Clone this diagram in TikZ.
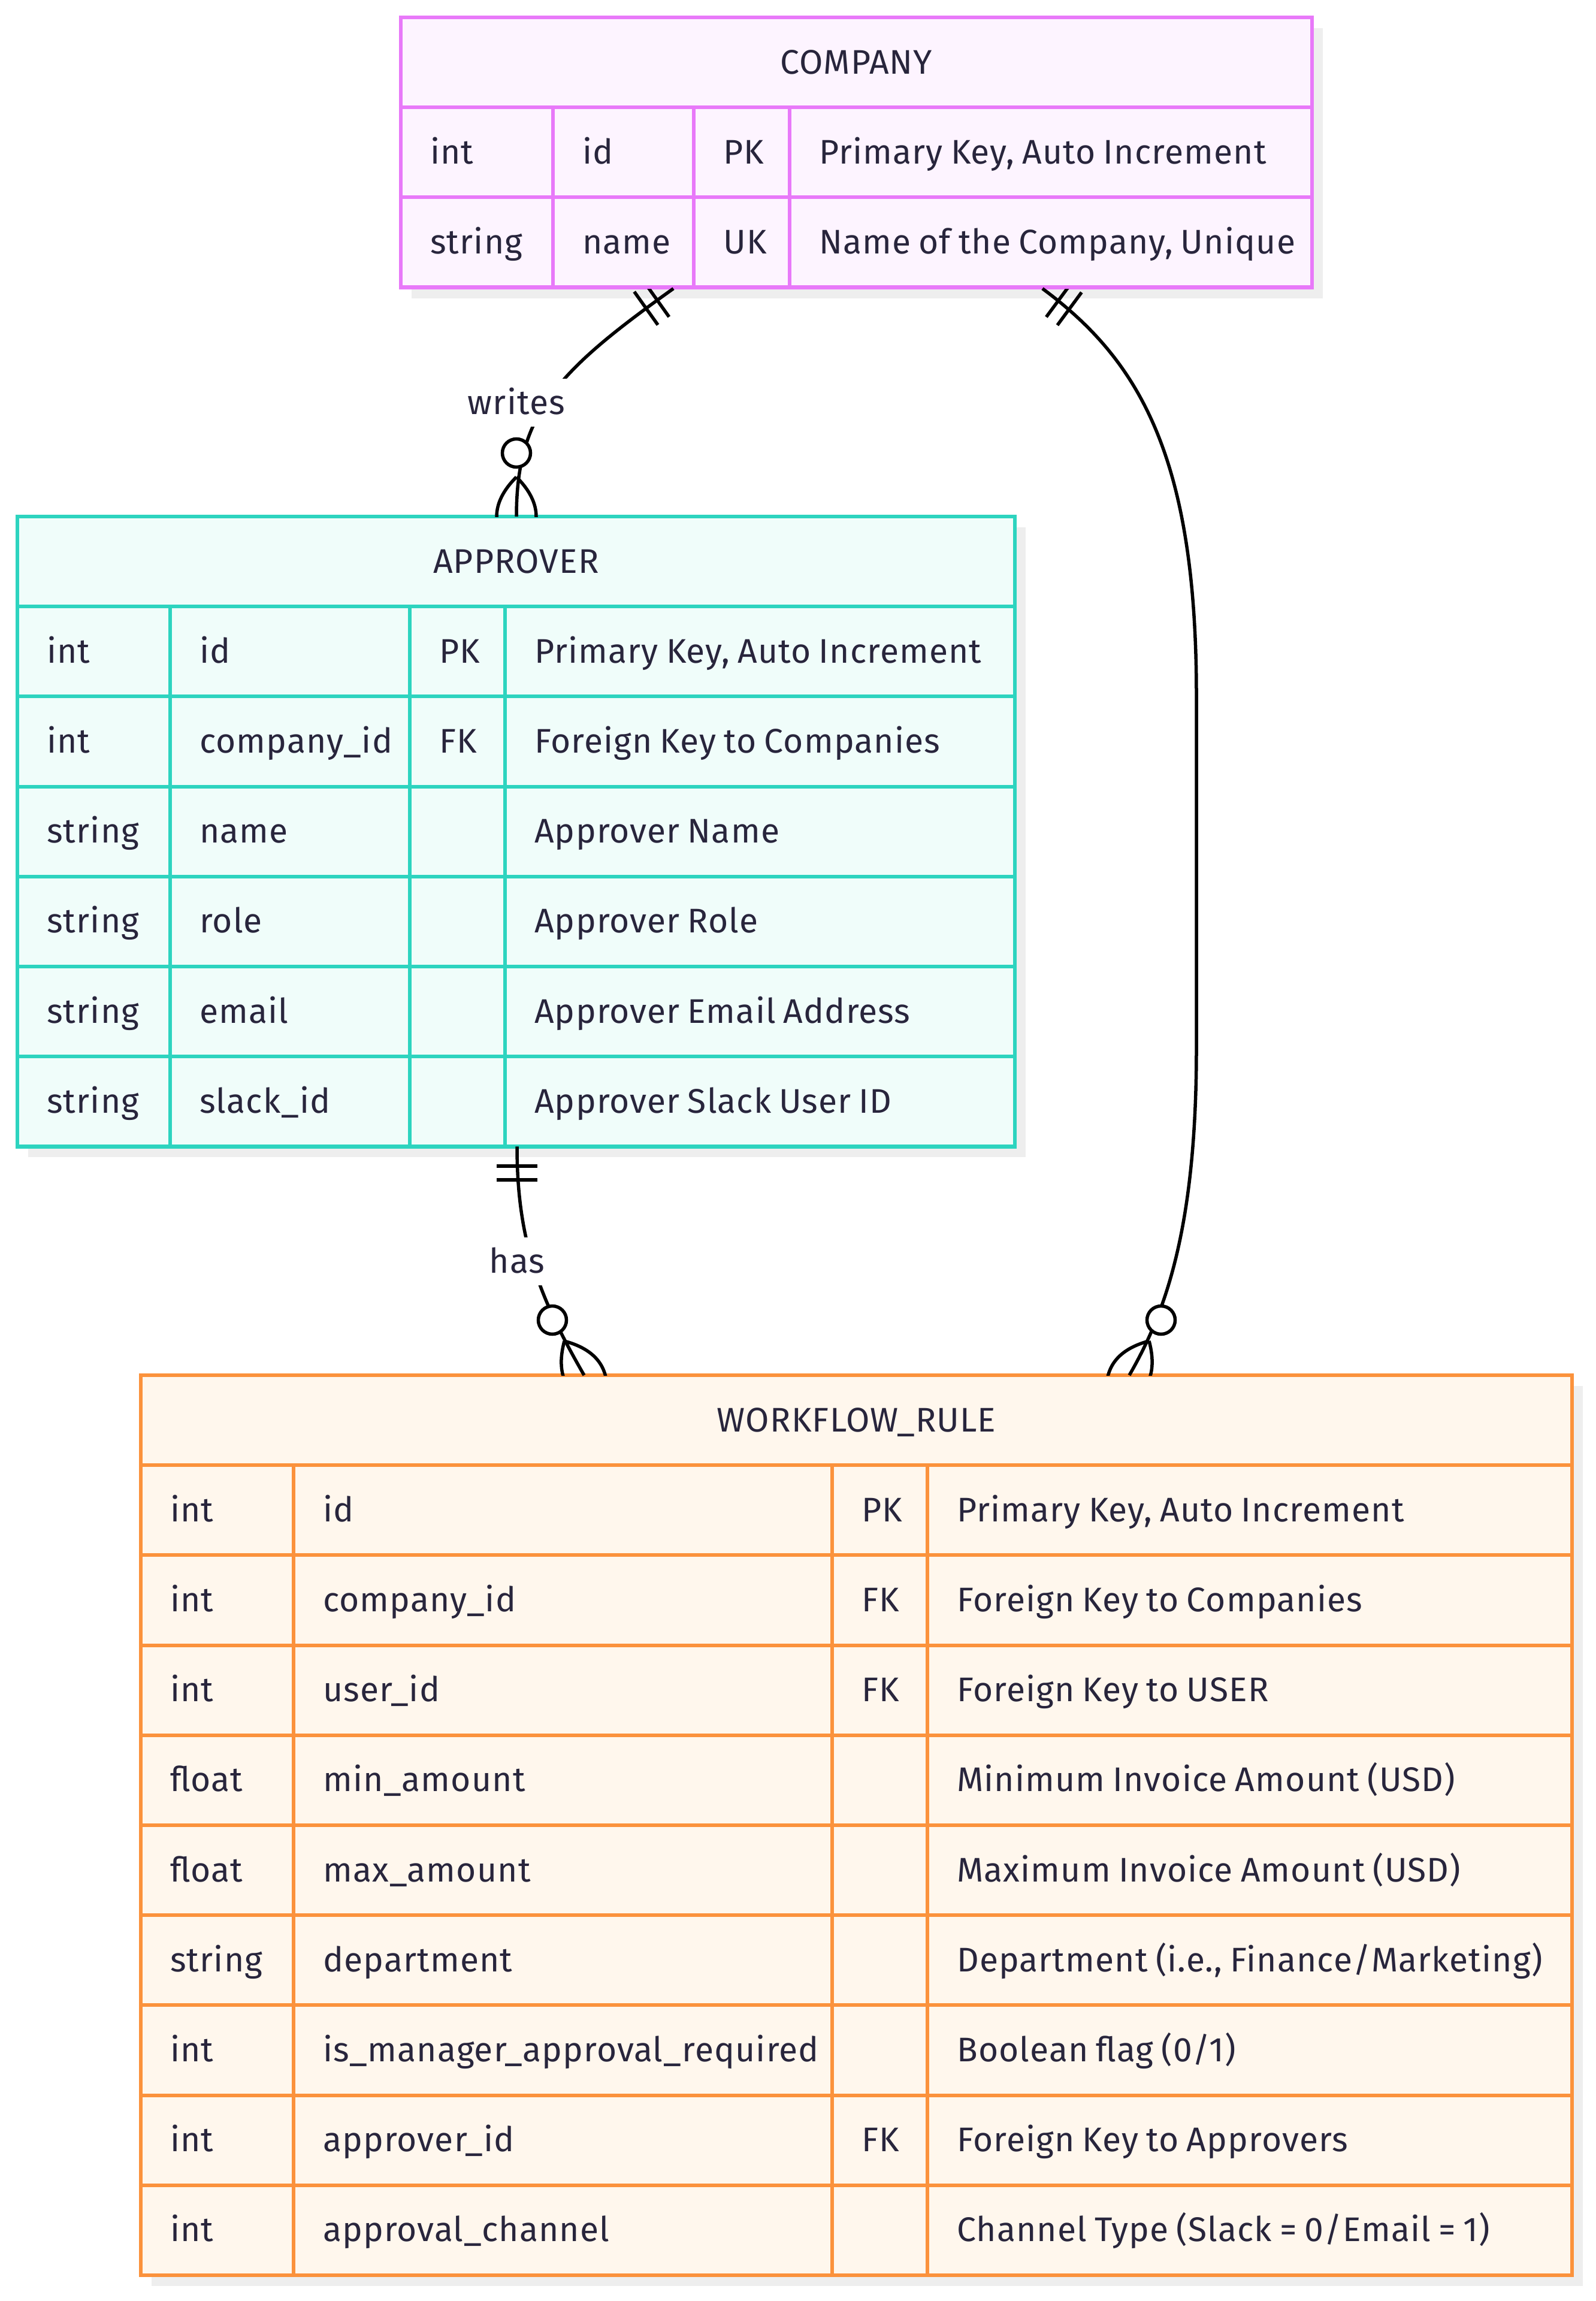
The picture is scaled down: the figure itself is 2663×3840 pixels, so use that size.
\documentclass[tikz,border=0pt]{standalone}
\usepackage{fontspec}
\setmainfont{Fira Sans}[LetterSpace=2.0,WordSpace=0.8]
\usetikzlibrary{calc,shadows}
\definecolor{txt}{RGB}{40,37,60}
\definecolor{fuch}{RGB}{232,121,249}
\definecolor{fuchL}{RGB}{253,244,255}
\definecolor{teal}{RGB}{45,212,191}
\definecolor{tealL}{RGB}{240,253,250}
\definecolor{oran}{RGB}{251,146,60}
\definecolor{oranL}{RGB}{255,247,237}
\definecolor{shad}{RGB}{238,238,238}
\newcommand{\erfont}{\fontsize{57}{64}\selectfont}
\newcommand{\erset}[6]{\def\erX{#1}\def\erY{#2}\def\erA{#3}\def\erB{#4}\def\erC{#5}\def\erN{#6}}
\newcommand{\errow}[5]{%
  \node[cell] (\erN-#1-type) at ({\erX+49},{\erY+(#1+0.5)*150.2+19}) {#2};
  \node[cell] (\erN-#1-name) at ({\erA+49},{\erY+(#1+0.5)*150.2+19}) {#3};
  \node[cell] (\erN-#1-key)  at ({\erB+49},{\erY+(#1+0.5)*150.2+19}) {#4};
  \node[cell] (\erN-#1-note) at ({\erC+49},{\erY+(#1+0.5)*150.2+19}) {#5};
}
\tikzset{
  cell/.style={anchor=base west, inner sep=0pt, text=txt, font=\erfont},
  hdr/.style={anchor=base, inner sep=0pt, text=txt, font=\erfont},
  tbl/.style={anchor=north west, inner sep=0pt, outer sep=0pt, line width=6.5pt,
    drop shadow={shadow xshift=18pt, shadow yshift=-18pt, fill=shad, opacity=1}},
  gridl/.style={line width=6pt},
  conn/.style={line width=5.5pt, black},
  lbl/.style={fill=white, inner xsep=8pt, inner ysep=0pt, minimum height=80pt,
    text height=38pt, text depth=0pt, text=txt, font=\erfont},
}
\begin{document}
\begin{tikzpicture}[x=1pt,y=-1pt]
\useasboundingbox (0,0) rectangle (2663,3840);
\fill[white] (0,0) rectangle (2663,3840);

% ---------- COMPANY ----------
\node[tbl, draw=fuch, fill=fuchL, minimum width=1521pt, minimum height=450.6pt] (company) at (669,29) {};
\draw[gridl, fuch] (669,179.2) -- (2190,179.2) (669,329.4) -- (2190,329.4)
  (923,179.2) -- (923,479.6) (1158,179.2) -- (1158,479.6) (1318,179.2) -- (1318,479.6);
\node[hdr] (company-title) at (1429.5,{29+75.1+19}) {COMPANY};
\erset{669}{29}{923}{1158}{1318}{company}
\errow{1}{int}{id}{PK}{Primary Key, Auto Increment}
\errow{2}{string}{name}{UK}{Name of the Company, Unique}

% ---------- APPROVER ----------
\node[tbl, draw=teal, fill=tealL, minimum width=1665pt, minimum height=1051.4pt] (approver) at (29,862) {};
\draw[gridl, teal]
  \foreach \i in {1,...,6} { (29,{862+\i*150.2}) -- (1694,{862+\i*150.2}) }
  (284,1012.2) -- (284,1913.4) (684,1012.2) -- (684,1913.4) (843,1012.2) -- (843,1913.4);
\node[hdr] (approver-title) at (861.5,{862+75.1+19}) {APPROVER};
\erset{29}{862}{284}{684}{843}{approver}
\errow{1}{int}{id}{PK}{Primary Key, Auto Increment}
\errow{2}{int}{company\_id}{FK}{Foreign Key to Companies}
\errow{3}{string}{name}{}{Approver Name}
\errow{4}{string}{role}{}{Approver Role}
\errow{5}{string}{email}{}{Approver Email Address}
\errow{6}{string}{slack\_id}{}{Approver Slack User ID}

% ---------- WORKFLOW_RULE ----------
\node[tbl, draw=oran, fill=oranL, minimum width=2389pt, minimum height=1502pt] (workflow) at (235,2295) {};
\draw[gridl, oran]
  \foreach \i in {1,...,9} { (235,{2295+\i*150.2}) -- (2624,{2295+\i*150.2}) }
  (490,2445.2) -- (490,3797) (1389,2445.2) -- (1389,3797) (1548,2445.2) -- (1548,3797);
\node[hdr] (workflow-title) at (1429.5,{2295+75.1+19}) {WORKFLOW\_RULE};
\erset{235}{2295}{490}{1389}{1548}{workflow}
\errow{1}{int}{id}{PK}{Primary Key, Auto Increment}
\errow{2}{int}{company\_id}{FK}{Foreign Key to Companies}
\errow{3}{int}{user\_id}{FK}{Foreign Key to USER}
\errow{4}{float}{min\_amount}{}{Minimum Invoice Amount (USD)}
\errow{5}{float}{max\_amount}{}{Maximum Invoice Amount (USD)}
\errow{6}{string}{department}{}{Department (i.e., Finance/Marketing)}
\errow{7}{int}{is\_manager\_approval\_required}{}{Boolean flag (0/1)}
\errow{8}{int}{approver\_id}{FK}{Foreign Key to Approvers}
\errow{9}{int}{approval\_channel}{}{Channel Type (Slack = 0/Email = 1)}

% ---------- connector end points ----------
\coordinate (ws) at ($(company.south west)+(455,2)$);
\coordinate (we) at ($(approver.north west)+(833,0)$);
\coordinate (hs) at ($(approver.south west)+(834,0)$);
\coordinate (he) at ($(workflow.north west)+(740,0)$);
\coordinate (cs) at ($(company.south west)+(1071,2)$);
\coordinate (ce) at ($(workflow.north west)+(1650,0)$);

% ---------- connectors ----------
\draw[conn] (ws) .. controls (930,620) and (862,690) .. (we);
\draw[conn] (hs) .. controls (863,2070) and (900,2165) .. (he);
\draw[conn] (cs) .. controls (1900,600) and (1997,760) .. (1997,1160) -- (1997,1750)
  .. controls (1997,2050) and (1945,2191) .. (ce);

% start markers (exactly one)
\begin{scope}
\clip (0,482) rectangle (2663,862);
\draw[conn] (1077.4,473.4) -- (1116.8,528.8) (1058.7,486.8) -- (1098.1,542.2);
\draw[conn] (1746.4,529.0) -- (1786.8,474.2) (1764.9,542.7) -- (1805.3,487.9);
\end{scope}
\draw[conn] (829,1946) -- (897,1946) (829,1969) -- (897,1969);

% end markers (zero or more)
\begin{scope}
\clip (0,600) rectangle (2663,862);
\draw[conn] (862,796) .. controls (906,840) and (906,884) .. (862,928);
\draw[conn] (862,796) .. controls (818,840) and (818,884) .. (862,928);
\end{scope}
\draw[conn, fill=white] (862,756) circle[radius=23.5pt];
\begin{scope}
\clip (0,2100) rectangle (2663,2295);
\draw[conn] (942,2238) .. controls (1002.1,2254) and (1024.1,2292) .. (1008,2352.2);
\draw[conn] (942,2238) .. controls (925.9,2298) and (947.9,2336) .. (1008,2352.2);
\draw[conn] (1918,2237.8) .. controls (1934.1,2298) and (1912.1,2336) .. (1852,2352.2);
\draw[conn] (1918,2237.8) .. controls (1857.9,2254) and (1835.9,2292) .. (1852,2352.2);
\end{scope}
\draw[conn, fill=white] (922,2203) circle[radius=23.5pt];
\draw[conn, fill=white] (1938,2203) circle[radius=23.5pt];

% labels
\node[lbl] (lab-writes) at (862,672) {writes};
\node[lbl] (lab-has) at (863,2105) {has};
\end{tikzpicture}
\end{document}
